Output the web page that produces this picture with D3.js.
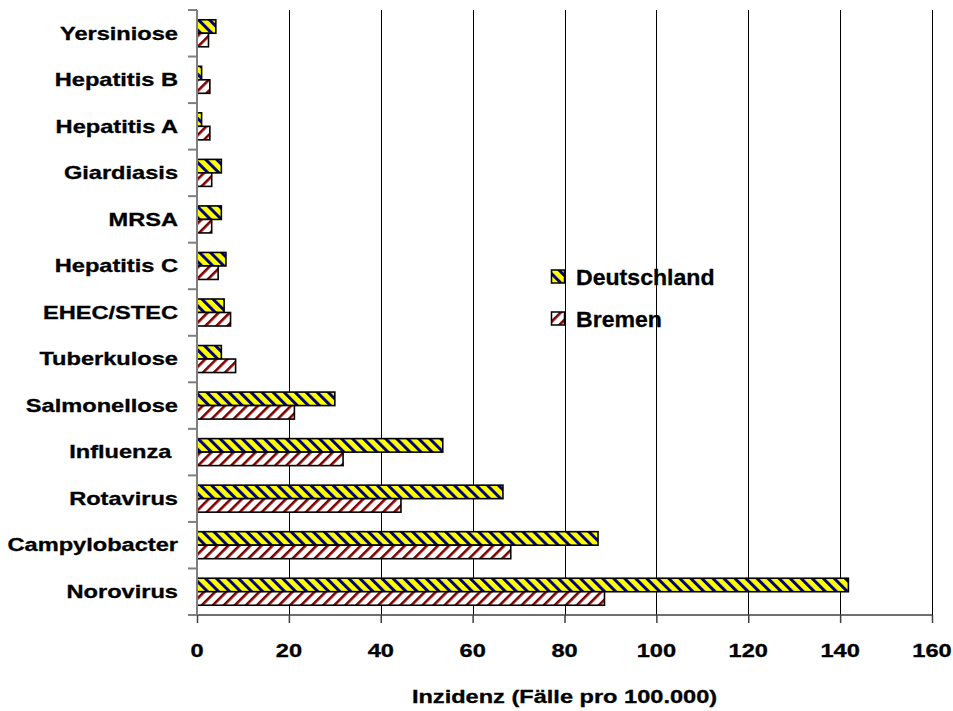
<!DOCTYPE html>
<html>
<head>
<meta charset="utf-8">
<script src="https://cdn.jsdelivr.net/npm/d3@7"></script>
<style>
  html, body { margin: 0; padding: 0; background: #fff; }
  svg { display: block; }
  text { font-family: "Liberation Sans", Arial, sans-serif; font-weight: bold; fill: #000;
         stroke: #000; stroke-width: 0.3px; white-space: pre; }
</style>
</head>
<body>
<script>
// Meldepflichtige Infektionen: Inzidenz je 100.000 Einwohner
const categories = ["Yersiniose", "Hepatitis B", "Hepatitis A", "Giardiasis", "MRSA", "Hepatitis C",
  "EHEC/STEC", "Tuberkulose", "Salmonellose", "Influenza ", "Rotavirus", "Campylobacter", "Norovirus"];
const deutschland = [4.1, 1.0, 1.0, 5.3, 5.3, 6.3, 5.9, 5.3, 30.0, 53.5, 66.6, 87.3, 141.8];
const bremen      = [2.5, 2.8, 2.8, 3.2, 3.2, 4.6, 7.3, 8.4, 21.2, 31.8, 44.4, 68.3, 88.7];
const xTicks = [0, 20, 40, 60, 80, 100, 120, 140, 160];
const seriesNames = ["Deutschland", "Bremen"];
const axisTitle = "Inzidenz (Fälle pro 100.000)";

const W = 953, H = 711;
const plot = { left: 197, right: 932, top: 10, bottom: 615 };

const svg = d3.select("body").append("svg").attr("width", W).attr("height", H);

// Hatch fills for the two series
const defs = svg.append("defs");
function hatch(id, bg, fg, angle, period, stripe) {
  const p = defs.append("pattern")
    .attr("id", id).attr("patternUnits", "userSpaceOnUse")
    .attr("width", period).attr("height", period)
    .attr("patternTransform", `rotate(${angle})`);
  p.append("rect").attr("width", period).attr("height", period).attr("fill", bg);
  p.append("rect").attr("width", stripe).attr("height", period).attr("fill", fg);
}
hatch("hatchDE", "#ffff00", "#000080", -45, 7.8, 3.0);
hatch("hatchHB", "#ffffff", "#800000", 45, 7.8, 2.6);
const fills = ["url(#hatchDE)", "url(#hatchHB)"];

const x = d3.scaleLinear().domain([0, 160]).range([plot.left, plot.right]);
const y = d3.scaleBand().domain(categories).range([plot.top, plot.bottom]);

// Vertical gridlines
svg.append("g").selectAll("line").data(xTicks.slice(1)).join("line")
  .attr("x1", d => Math.round(x(d)) + 0.5).attr("x2", d => Math.round(x(d)) + 0.5)
  .attr("y1", plot.top).attr("y2", plot.bottom)
  .attr("stroke", "#000").attr("stroke-width", 1);

// Bars: Deutschland above, Bremen below within each category band
const barH = 13.5;
const series = [deutschland, bremen];
series.forEach((vals, si) => {
  svg.append("g").selectAll("rect").data(categories).join("rect")
    .attr("x", x(0))
    .attr("y", (c) => y(c) + y.bandwidth() / 2 - barH + si * barH)
    .attr("width", (c, i) => x(vals[i]) - x(0))
    .attr("height", barH)
    .attr("fill", fills[si])
    .attr("stroke", "#000").attr("stroke-width", 1.6);
});

// Axes
const axisColor = "#7f7f7f";
const xAxis = svg.append("g").attr("transform", `translate(0,${plot.bottom})`)
  .call(d3.axisBottom(x).tickValues(xTicks).tickSize(8).tickFormat(""));
xAxis.select(".domain").attr("stroke", "#404040").attr("stroke-width", 1.5)
  .attr("d", `M${plot.left},0H${plot.right}`);
xAxis.selectAll(".tick line").attr("stroke", "#404040").attr("stroke-width", 1.5);

const yAxis = svg.append("g").attr("transform", `translate(${plot.left},0)`);
yAxis.append("line").attr("x1", 0).attr("x2", 0).attr("y1", plot.top).attr("y2", plot.bottom)
  .attr("stroke", axisColor).attr("stroke-width", 2);
const bounds = categories.map(c => y(c)).concat([plot.bottom]);
yAxis.selectAll("line.tk").data(bounds).join("line").attr("class", "tk")
  .attr("x1", -9).attr("x2", 0).attr("y1", d => d).attr("y2", d => d)
  .attr("stroke", axisColor).attr("stroke-width", 2);

// Category labels (wide bold type)
const labSize = 17.5, labStretch = 1.35;
svg.append("g").selectAll("text").data(categories).join("text")
  .attr("transform", c => `translate(178,${y(c) + y.bandwidth() / 2 + 6.3}) scale(${labStretch},1)`)
  .attr("text-anchor", "end").attr("font-size", labSize)
  .text(c => c);

// Tick labels
svg.append("g").selectAll("text").data(xTicks).join("text")
  .attr("transform", d => `translate(${x(d)},657) scale(${labStretch},1)`)
  .attr("text-anchor", "middle").attr("font-size", labSize)
  .text(d => d);

// Axis title
svg.append("text")
  .attr("transform", `translate(${(plot.left + plot.right) / 2},703) scale(1.31,1)`)
  .attr("text-anchor", "middle").attr("font-size", 18)
  .text(axisTitle);

// Legend
const legend = svg.append("g");
seriesNames.forEach((name, i) => {
  const ly = 270 + i * 42;
  legend.append("rect").attr("x", 551.5).attr("y", ly).attr("width", 13).attr("height", 13)
    .attr("fill", fills[i]).attr("stroke", "#000").attr("stroke-width", 1.5);
  legend.append("text")
    .attr("transform", `translate(576,${ly + 15}) scale(1.05,1)`)
    .attr("font-size", 22).text(name);
});
</script>
</body>
</html>
